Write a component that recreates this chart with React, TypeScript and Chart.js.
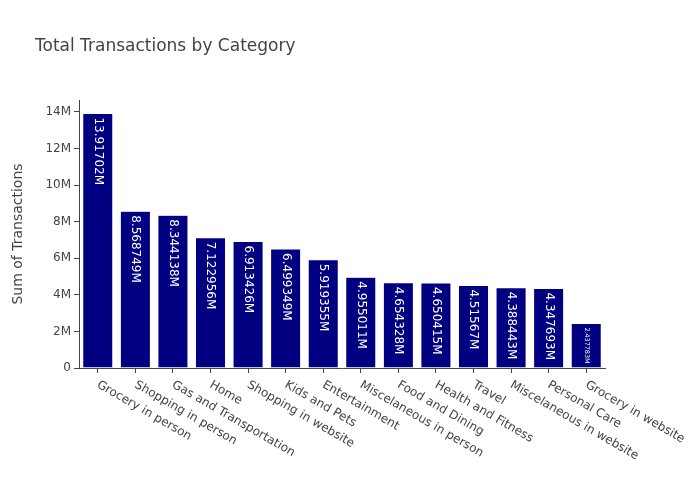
import { useEffect, useRef } from 'react';
import { Chart, registerables, type ChartConfiguration, type Plugin } from 'chart.js';

Chart.register(...registerables);

const CATEGORIES = [
  'Grocery in person',
  'Shopping in person',
  'Gas and Transportation',
  'Home',
  'Shopping in website',
  'Kids and Pets',
  'Entertainment',
  'Miscelaneous in person',
  'Food and Dining',
  'Health and Fitness',
  'Travel',
  'Miscelaneous in website',
  'Personal Care',
  'Grocery in website',
];

const TOTALS = [
  13917020, 8568749, 8344138, 7122956, 6913426, 6499349, 5919355,
  4955011, 4654328, 4650415, 4515670, 4388443, 4347693, 2437783,
];

const Y_TICKS = [0, 2e6, 4e6, 6e6, 8e6, 10e6, 12e6, 14e6];

const TITLE = 'Total Transactions by Category';
const Y_TITLE = 'Sum of Transactions';
const Y_MAX = 14.65e6;

const FONT = '"DejaVu Sans", Verdana, sans-serif';
const TEXT = '#444';

const fmtM = (v: number) =>
  (v / 1e6).toFixed(6).replace(/0+$/, '').replace(/\.$/, '') + 'M';

// title, rotated x labels and the in-bar value labels
const labelsPlugin: Plugin<'bar'> = {
  id: 'labels',
  afterDraw(chart) {
    const { ctx } = chart;
    const x = chart.scales.x;
    ctx.save();

    ctx.fillStyle = TEXT;
    ctx.font = `17px ${FONT}`;
    ctx.textAlign = 'left';
    ctx.textBaseline = 'alphabetic';
    ctx.fillText(TITLE, 35, 51);

    ctx.font = `12px ${FONT}`;
    CATEGORIES.forEach((c, i) => {
      const px = x.getPixelForTick(i);
      ctx.save();
      ctx.translate(px, 384);
      ctx.rotate(Math.PI / 6);
      ctx.textBaseline = 'middle';
      ctx.fillText(c, 0, 0);
      ctx.restore();
    });

    const meta = chart.getDatasetMeta(0);
    ctx.fillStyle = '#fff';
    meta.data.forEach((el: any, i) => {
      const text = fmtM(TOTALS[i]);
      const h = el.base - el.y;
      let size = 12;
      ctx.font = `${size}px ${FONT}`;
      const w = ctx.measureText(text).width;
      let start = el.y + 4;
      if (w > h - 8) {
        // shrink to fit short bars, like plotly does
        size = (size * (h - 8)) / w;
        ctx.font = `${size}px ${FONT}`;
        start = el.y + (h - ctx.measureText(text).width) / 2;
      }
      ctx.save();
      ctx.translate(el.x, start);
      ctx.rotate(Math.PI / 2);
      ctx.textAlign = 'left';
      ctx.textBaseline = 'middle';
      ctx.fillText(text, 0, 0);
      ctx.restore();
    });
    ctx.restore();
  },
};

export default function App() {
  const canvasRef = useRef<HTMLCanvasElement | null>(null);

  useEffect(() => {
    const canvas = canvasRef.current;
    if (!canvas) return;

    const config: ChartConfiguration<'bar'> = {
      type: 'bar',
      data: {
        labels: CATEGORIES,
        datasets: [
          {
            data: TOTALS,
            backgroundColor: '#000080',
            borderColor: 'rgba(255,255,255,0.6)',
            borderWidth: 0.5,
            barPercentage: 0.8,
            categoryPercentage: 1,
          },
        ],
      },
      options: {
        responsive: true,
        maintainAspectRatio: false,
        animation: false,
        layout: { padding: { top: 100, right: 95, left: 0, bottom: 0 } },
        plugins: {
          legend: { display: false },
          tooltip: { enabled: false },
        },
        scales: {
          x: {
            offset: true,
            grid: {
              offset: false,
              drawOnChartArea: false,
              tickLength: 5,
              color: TEXT,
            },
            border: { display: true, color: TEXT, width: 1 },
            ticks: { display: false },
            afterFit: (s) => {
              s.height = 132;
            },
          },
          y: {
            min: 0,
            max: Y_MAX,
            grid: { drawOnChartArea: false, tickLength: 5, color: TEXT },
            border: { display: true, color: TEXT, width: 1 },
            ticks: {
              color: TEXT,
              font: { family: FONT, size: 12 },
              padding: 3,
              autoSkip: false,
              callback: (v) => (Number(v) === 0 ? '0' : Number(v) / 1e6 + 'M'),
            },
            afterBuildTicks: (s) => {
              s.ticks = Y_TICKS.map((value) => ({ value }));
            },
            title: {
              display: true,
              text: Y_TITLE,
              color: TEXT,
              font: { family: FONT, size: 14 },
              padding: { top: 10, bottom: 0 },
            },
            afterFit: (s) => {
              s.width = 79;
            },
          },
        },
      },
      plugins: [labelsPlugin],
    };

    const chart = new Chart(canvas, config);
    return () => chart.destroy();
  }, []);

  return (
    <div style={{ position: 'fixed', left: 0, top: 0, width: 700, height: 500, background: '#fff' }}>
      <canvas ref={canvasRef} role="img" aria-label={TITLE} />
    </div>
  );
}
